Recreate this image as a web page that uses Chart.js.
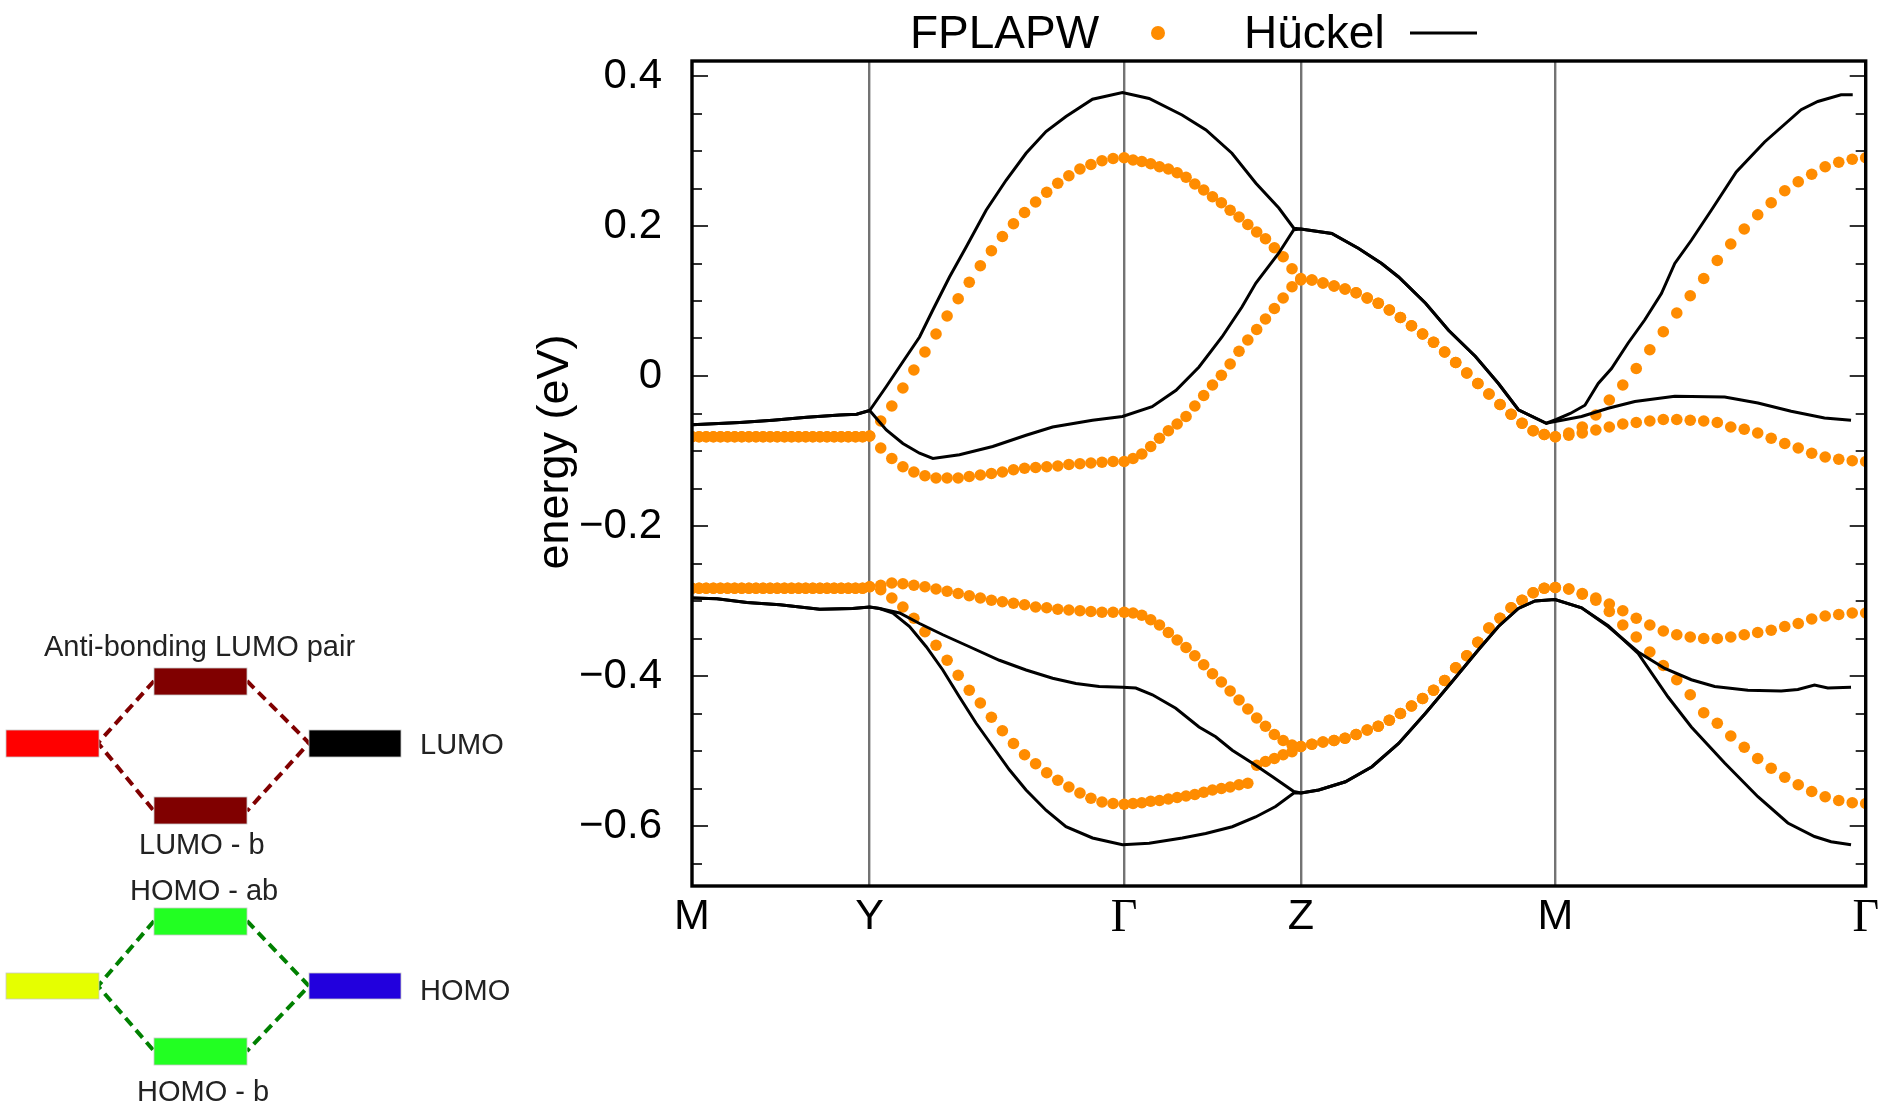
<!DOCTYPE html>
<html>
<head>
<meta charset="utf-8">
<title>Band structure: FPLAPW vs Hückel</title>
<script src="https://cdn.jsdelivr.net/npm/chart.js@4.4.1/dist/chart.umd.min.js"></script>
<style>
  html, body { margin: 0; padding: 0; background: #fff; }
  #wrap { position: relative; width: 1884px; height: 1105px; overflow: hidden; }
  #bands, #levels { position: absolute; left: 0; top: 0; }
</style>
</head>
<body>
<div id="wrap">
  <canvas id="bands" width="1884" height="1105"></canvas>

  <!-- orbital mixing scheme -->
  <svg id="levels" width="540" height="1105" viewBox="0 0 540 1105">
    <g fill="none" stroke-width="4" stroke-dasharray="10 6">
      <polyline stroke="#800000" points="154,681 98,743 154,811"/>
      <polyline stroke="#800000" points="247,681 309,743 247,811"/>
      <polyline stroke="#008000" points="154,921 98,986 154,1051"/>
      <polyline stroke="#008000" points="247,921 309,986 247,1051"/>
    </g>
    <g stroke="#c8c8c8" stroke-width="0.8">
      <rect x="154" y="668" width="93" height="27" fill="#800000"/>
      <rect x="6" y="730" width="93" height="27" fill="#ff0000"/>
      <rect x="309" y="730" width="92" height="27" fill="#000000"/>
      <rect x="154" y="797" width="93" height="27" fill="#800000"/>
      <rect x="154" y="908" width="93" height="27" fill="#22ff22"/>
      <rect x="6" y="973" width="93" height="26" fill="#e5ff00"/>
      <rect x="309" y="973" width="92" height="26" fill="#2200dd"/>
      <rect x="154" y="1038" width="93" height="27" fill="#22ff22"/>
    </g>
    <g font-family="'Liberation Sans', Arial, sans-serif" font-size="29" fill="#222">
      <text x="44" y="656">Anti-bonding LUMO pair</text>
      <text x="420" y="754">LUMO</text>
      <text x="139" y="854">LUMO - b</text>
      <text x="130" y="900">HOMO - ab</text>
      <text x="420" y="1000">HOMO</text>
      <text x="137" y="1101">HOMO - b</text>
    </g>
  </svg>
</div>

<script>
// k-path: M - Y - Γ - Z - M - Γ (path length units)
const kLabels = ['M', 'Y', 'Γ', 'Z', 'M', 'Γ'];
const kLabelPos = [0, 178, 433, 610, 865, 1176];

// energy axis ticks (eV)
const yMajor = [-0.6, -0.4, -0.2, 0, 0.2, 0.4];
const yMinor = [-0.65, -0.55, -0.5, -0.45, -0.35, -0.3, -0.25, -0.15, -0.1, -0.05,
                0.05, 0.1, 0.15, 0.25, 0.3, 0.35];

// FPLAPW k-points along the path
const kPath = [
  0, 7.1, 14.2, 21.4, 28.5, 35.6, 42.7, 49.8, 57, 64.1, 71.2, 78.3, 85.4, 92.6, 99.7, 106.8, 113.9, 121, 128.2, 135.3, 142.4, 149.5, 156.6, 163.8, 170.9, 178,
  189.1, 200.2, 211.3, 222.3, 233.4, 244.5, 255.6, 266.7, 277.8, 288.9, 300, 311, 322.1, 333.2, 344.3, 355.4, 366.5, 377.6, 388.7, 399.7, 410.8, 421.9, 433,
  441.9, 450.7, 459.6, 468.4, 477.3, 486.1, 495, 503.8, 512.7, 521.5, 530.4, 539.2, 548.1, 556.9, 565.8, 574.6, 583.5, 592.3, 601.2, 610,
  621.1, 632.2, 643.3, 654.3, 665.4, 676.5, 687.6, 698.7, 709.8, 720.9, 732, 743, 754.1, 765.2, 776.3, 787.4, 798.5, 809.6, 820.7, 831.7, 842.8, 853.9, 865,
  878.5, 892, 905.6, 919.1, 932.6, 946.1, 959.7, 973.2, 986.7, 1000.2, 1013.7, 1027.3, 1040.8, 1054.3, 1067.8, 1081.3, 1094.9, 1108.4, 1121.9, 1135.4, 1149, 1162.5, 1176
];

// FPLAPW band energies (eV) on kPath
const fpLumoUpper = [
  -0.081, -0.081, -0.081, -0.081, -0.081, -0.081, -0.081, -0.081, -0.081, -0.081, -0.081, -0.081, -0.081, -0.081, -0.081, -0.081, -0.081, -0.081, -0.081, -0.081, -0.081, -0.081, -0.081, -0.081, -0.081, -0.080,
  -0.060, -0.040, -0.016, 0.008, 0.032, 0.056, 0.080, 0.103, 0.125, 0.147, 0.167, 0.186, 0.203, 0.218, 0.232, 0.245, 0.257, 0.267, 0.276, 0.282, 0.287, 0.290, 0.291,
  0.288, 0.286, 0.283, 0.279, 0.276, 0.271, 0.265, 0.256, 0.248, 0.239, 0.231, 0.221, 0.212, 0.202, 0.192, 0.183, 0.171, 0.159, 0.143, 0.130,
  0.128, 0.124, 0.120, 0.116, 0.111, 0.104, 0.097, 0.088, 0.078, 0.067, 0.056, 0.045, 0.032, 0.018, 0.004, -0.010, -0.024, -0.038, -0.051, -0.063, -0.073, -0.078, -0.081,
  -0.076, -0.068, -0.052, -0.032, -0.012, 0.010, 0.035, 0.059, 0.084, 0.107, 0.130, 0.154, 0.176, 0.196, 0.215, 0.231, 0.247, 0.259, 0.269, 0.279, 0.285, 0.289, 0.291
];
const fpLumoLower = [
  -0.081, -0.081, -0.081, -0.081, -0.081, -0.081, -0.081, -0.081, -0.081, -0.081, -0.081, -0.081, -0.081, -0.081, -0.081, -0.081, -0.081, -0.081, -0.081, -0.081, -0.081, -0.081, -0.081, -0.081, -0.081, -0.080,
  -0.096, -0.110, -0.121, -0.128, -0.133, -0.136, -0.136, -0.136, -0.134, -0.132, -0.130, -0.128, -0.125, -0.123, -0.122, -0.121, -0.120, -0.118, -0.117, -0.116, -0.115, -0.114, -0.114,
  -0.110, -0.104, -0.094, -0.083, -0.073, -0.064, -0.054, -0.040, -0.026, -0.012, 0.001, 0.016, 0.033, 0.048, 0.062, 0.076, 0.090, 0.104, 0.119, 0.128,
  0.128, 0.124, 0.120, 0.116, 0.111, 0.104, 0.097, 0.088, 0.078, 0.067, 0.056, 0.045, 0.032, 0.018, 0.004, -0.010, -0.024, -0.038, -0.051, -0.063, -0.073, -0.078, -0.081,
  -0.079, -0.076, -0.072, -0.068, -0.064, -0.062, -0.060, -0.058, -0.058, -0.059, -0.060, -0.062, -0.068, -0.071, -0.076, -0.083, -0.090, -0.096, -0.103, -0.108, -0.111, -0.113, -0.114
];
const fpHomoUpper = [
  -0.283, -0.283, -0.283, -0.283, -0.283, -0.283, -0.283, -0.283, -0.283, -0.283, -0.283, -0.283, -0.283, -0.283, -0.283, -0.283, -0.283, -0.283, -0.283, -0.283, -0.283, -0.283, -0.283, -0.283, -0.283, -0.281,
  -0.279, -0.276, -0.277, -0.279, -0.281, -0.284, -0.287, -0.290, -0.293, -0.296, -0.299, -0.301, -0.303, -0.305, -0.308, -0.309, -0.311, -0.312, -0.313, -0.314, -0.315, -0.315, -0.315,
  -0.316, -0.319, -0.325, -0.332, -0.342, -0.352, -0.362, -0.373, -0.385, -0.397, -0.408, -0.420, -0.432, -0.444, -0.456, -0.467, -0.478, -0.486, -0.492, -0.494,
  -0.491, -0.488, -0.486, -0.483, -0.478, -0.472, -0.467, -0.459, -0.450, -0.440, -0.430, -0.419, -0.406, -0.389, -0.373, -0.355, -0.336, -0.323, -0.309, -0.299, -0.289, -0.283, -0.282,
  -0.284, -0.290, -0.296, -0.304, -0.313, -0.323, -0.332, -0.340, -0.345, -0.348, -0.350, -0.350, -0.348, -0.345, -0.342, -0.339, -0.334, -0.330, -0.324, -0.320, -0.318, -0.316, -0.316
];
const fpHomoLower = [
  -0.283, -0.283, -0.283, -0.283, -0.283, -0.283, -0.283, -0.283, -0.283, -0.283, -0.283, -0.283, -0.283, -0.283, -0.283, -0.283, -0.283, -0.283, -0.283, -0.283, -0.283, -0.283, -0.283, -0.283, -0.283, -0.281,
  -0.285, -0.296, -0.308, -0.323, -0.341, -0.359, -0.379, -0.399, -0.419, -0.436, -0.455, -0.473, -0.490, -0.505, -0.517, -0.529, -0.539, -0.548, -0.556, -0.563, -0.568, -0.570, -0.571,
  -0.570, -0.569, -0.567, -0.566, -0.564, -0.562, -0.560, -0.558, -0.555, -0.552, -0.550, -0.548, -0.545, -0.543, -0.519, -0.514, -0.510, -0.505, -0.501, -0.494,
  -0.491, -0.488, -0.486, -0.483, -0.478, -0.472, -0.467, -0.459, -0.450, -0.440, -0.430, -0.419, -0.406, -0.389, -0.373, -0.355, -0.336, -0.323, -0.309, -0.299, -0.289, -0.283, -0.282,
  -0.284, -0.291, -0.299, -0.314, -0.332, -0.348, -0.368, -0.386, -0.405, -0.425, -0.449, -0.463, -0.480, -0.495, -0.510, -0.523, -0.535, -0.545, -0.554, -0.561, -0.566, -0.569, -0.570
];

// Hückel bands as [k, energy] pairs
const hkLumoUpper = [
  [0, -0.065], [48, -0.062], [81, -0.059], [115, -0.055], [148, -0.052], [165, -0.051], [178, -0.046],
  [194.7, -0.014], [211.3, 0.019], [228, 0.052], [241.3, 0.088], [258, 0.132], [274.7, 0.172], [294.7, 0.221], [314.7, 0.261], [334.7, 0.297], [354.7, 0.326], [374.7, 0.346], [401.3, 0.369], [431.3, 0.378],
  [458, 0.370], [491, 0.348], [515, 0.328], [541, 0.297], [565, 0.257], [588, 0.224], [603, 0.197],
  [610, 0.196], [641, 0.190], [668, 0.170], [691, 0.150], [708, 0.132], [735, 0.097], [758, 0.061], [785, 0.026], [808, -0.010], [828, -0.045], [856, -0.063],
  [866, -0.058], [880, -0.050], [894.7, -0.039], [908, -0.010], [921.3, 0.010], [938, 0.044], [954.7, 0.075], [971.3, 0.110], [984.7, 0.150], [1001.3, 0.181], [1021.3, 0.221], [1046.3, 0.272], [1074.7, 0.312], [1111.3, 0.355], [1128, 0.366], [1151.3, 0.375], [1163, 0.375]
];
const hkLumoLower = [
  [0, -0.065], [48, -0.062], [81, -0.059], [115, -0.055], [148, -0.052], [165, -0.051], [178, -0.046],
  [194.7, -0.072], [211.3, -0.090], [228, -0.103], [241.3, -0.110], [268, -0.105], [301.3, -0.094], [334.7, -0.079], [361.3, -0.068], [401.3, -0.059], [431.3, -0.054],
  [461, -0.041], [485, -0.019], [508, 0.012], [531, 0.052], [551, 0.092], [565, 0.124], [588, 0.164], [603, 0.195],
  [610, 0.196], [641, 0.190], [668, 0.170], [691, 0.150], [708, 0.132], [735, 0.097], [758, 0.061], [785, 0.026], [808, -0.010], [828, -0.045], [856, -0.063],
  [891.3, -0.054], [918, -0.043], [944.7, -0.034], [984.7, -0.027], [1034.7, -0.028], [1068, -0.036], [1101.3, -0.047], [1134.7, -0.056], [1161.3, -0.059]
];
const hkHomoUpper = [
  [0, -0.296], [25, -0.297], [55, -0.302], [88, -0.305], [128, -0.311], [161, -0.310], [178, -0.308],
  [188, -0.310], [208, -0.316], [228, -0.330], [251.3, -0.345], [278, -0.361], [308, -0.379], [334.7, -0.392], [361.3, -0.403], [384.7, -0.410], [408, -0.414], [431.3, -0.415],
  [444.7, -0.416], [461.3, -0.425], [484.7, -0.443], [508, -0.468], [524.7, -0.481], [541.3, -0.499], [561.3, -0.516], [581.3, -0.534], [603, -0.554],
  [610.3, -0.556], [628, -0.552], [654.7, -0.541], [681.3, -0.521], [708, -0.490], [734.7, -0.450], [761.3, -0.408], [788, -0.365], [808, -0.334], [828, -0.310], [844.7, -0.300], [864.7, -0.298],
  [891.3, -0.309], [918, -0.334], [948, -0.368], [974.7, -0.390], [1001.3, -0.405], [1024.7, -0.414], [1058, -0.419], [1091.3, -0.420], [1108, -0.418], [1124.7, -0.412], [1138, -0.416], [1161.3, -0.415]
];
const hkHomoLower = [
  [0, -0.296], [25, -0.297], [55, -0.302], [88, -0.305], [128, -0.311], [161, -0.310], [178, -0.308],
  [188, -0.310], [201.3, -0.316], [218, -0.334], [234.7, -0.361], [251.3, -0.392], [268, -0.428], [284.7, -0.463], [301.3, -0.494], [318, -0.525], [334.7, -0.552], [354.7, -0.579], [374.7, -0.601], [401.3, -0.616], [431.3, -0.625],
  [458, -0.623], [491.3, -0.616], [514.7, -0.610], [541.3, -0.601], [564.7, -0.588], [584.7, -0.574], [603, -0.556],
  [610.3, -0.556], [628, -0.552], [654.7, -0.541], [681.3, -0.521], [708, -0.490], [734.7, -0.450], [761.3, -0.408], [788, -0.365], [808, -0.334], [828, -0.310], [844.7, -0.300], [864.7, -0.298],
  [891.3, -0.309], [918, -0.333], [948, -0.370], [978, -0.428], [1001.3, -0.468], [1034.7, -0.516], [1068, -0.561], [1098, -0.596], [1124.7, -0.614], [1141.3, -0.621], [1161.3, -0.625]
];

const ORANGE = '#ff8c00';
const FONT = "'Liberation Sans', Arial, Helvetica, sans-serif";

const fpPoints = band => kPath.map((k, i) => ({ x: k, y: band[i] }));
const hkPoints = band => band.map(([k, e]) => ({ x: k, y: e }));

const fpStyle = {
  showLine: false, pointRadius: 5.8, pointHoverRadius: 5.8,
  pointBackgroundColor: ORANGE, pointBorderWidth: 0, order: 2
};
const hkStyle = {
  showLine: true, borderColor: '#000', borderWidth: 3,
  pointRadius: 0, pointHoverRadius: 0, tension: 0, order: 1
};

const datasets = [
  { label: 'FPLAPW', data: fpPoints(fpLumoUpper), ...fpStyle },
  { label: 'FPLAPW', data: fpPoints(fpLumoLower), ...fpStyle },
  { label: 'FPLAPW', data: fpPoints(fpHomoUpper), ...fpStyle },
  { label: 'FPLAPW', data: fpPoints(fpHomoLower), ...fpStyle },
  { label: 'Hückel', data: hkPoints(hkLumoUpper), ...hkStyle },
  { label: 'Hückel', data: hkPoints(hkLumoLower), ...hkStyle },
  { label: 'Hückel', data: hkPoints(hkHomoUpper), ...hkStyle },
  { label: 'Hückel', data: hkPoints(hkHomoLower), ...hkStyle }
];

// frame with inward ticks on both sides (gnuplot look)
const frameTicks = {
  id: 'frameTicks',
  afterDraw(chart) {
    const { ctx, chartArea: a } = chart;
    const y = chart.scales.y;
    ctx.save();
    ctx.strokeStyle = '#333';
    ctx.lineWidth = 2;
    ctx.beginPath();
    yMajor.forEach(v => {
      const p = Math.round(y.getPixelForValue(v));
      ctx.moveTo(a.left, p); ctx.lineTo(a.left + 16, p);
      ctx.moveTo(a.right, p); ctx.lineTo(a.right - 16, p);
    });
    yMinor.forEach(v => {
      const p = Math.round(y.getPixelForValue(v));
      ctx.moveTo(a.left, p); ctx.lineTo(a.left + 10, p);
      ctx.moveTo(a.right, p); ctx.lineTo(a.right - 10, p);
    });
    ctx.stroke();
    ctx.strokeStyle = '#000';
    ctx.lineWidth = 3.4;
    ctx.strokeRect(a.left, a.top, a.right - a.left, a.bottom - a.top);
    ctx.restore();
  }
};

// key along the top, text first then symbol
const topKey = {
  id: 'topKey',
  afterDraw(chart) {
    const ctx = chart.ctx;
    ctx.save();
    ctx.font = '46px ' + FONT;
    ctx.textBaseline = 'alphabetic';
    ctx.fillStyle = '#000';
    ctx.fillText('FPLAPW', 910, 48);
    ctx.fillText('Hückel', 1244, 48);
    ctx.beginPath();
    ctx.arc(1158, 33, 7, 0, Math.PI * 2);
    ctx.fillStyle = ORANGE;
    ctx.fill();
    ctx.beginPath();
    ctx.moveTo(1410, 33); ctx.lineTo(1477, 33);
    ctx.strokeStyle = '#000';
    ctx.lineWidth = 3;
    ctx.stroke();
    ctx.restore();
  }
};

// rotated energy axis title
const yTitle = {
  id: 'yTitle',
  afterDraw(chart) {
    const ctx = chart.ctx;
    ctx.save();
    ctx.translate(556, 452);
    ctx.rotate(-Math.PI / 2);
    ctx.font = '45px ' + FONT;
    ctx.fillStyle = '#000';
    ctx.textAlign = 'center';
    ctx.textBaseline = 'middle';
    ctx.fillText('energy (eV)', 0, 0);
    ctx.restore();
  }
};

new Chart(document.getElementById('bands'), {
  type: 'scatter',
  data: { datasets },
  options: {
    responsive: false,
    animation: false,
    events: [],
    layout: { padding: { left: 0, right: 16, top: 61, bottom: 0 } },
    plugins: { legend: { display: false }, tooltip: { enabled: false } },
    scales: {
      x: {
        type: 'linear',
        min: 0, max: 1176,
        afterFit: s => { s.height = 219; },
        afterBuildTicks: s => { s.ticks = kLabelPos.map(v => ({ value: v })); },
        border: { display: false },
        grid: {
          drawTicks: false,
          lineWidth: 2.4,
          color: c => (c.index === 0 || c.index === kLabelPos.length - 1) ? 'rgba(0,0,0,0)' : 'rgba(0,0,0,0.55)'
        },
        ticks: {
          autoSkip: false, maxRotation: 0, padding: 5, color: '#000',
          font: c => (c.tick && c.index !== undefined && kLabels[c.index] === 'Γ')
            ? { family: "'Liberation Serif', 'Times New Roman', serif", size: 46 }
            : { family: FONT, size: 43 },
          callback: (v, i) => kLabels[i]
        }
      },
      y: {
        type: 'linear',
        min: -0.68, max: 0.42,
        afterFit: s => { s.width = 692; },
        afterBuildTicks: s => { s.ticks = yMajor.map(v => ({ value: v })); },
        border: { display: false },
        grid: { display: false, drawTicks: false },
        ticks: {
          padding: 30, color: '#000',
          font: { family: FONT, size: 42 },
          callback: v => v === 0 ? '0' : (v < 0 ? '\u2212' : '') + Math.abs(v).toFixed(1)
        }
      }
    }
  },
  plugins: [frameTicks, topKey, yTitle]
});
</script>
</body>
</html>
